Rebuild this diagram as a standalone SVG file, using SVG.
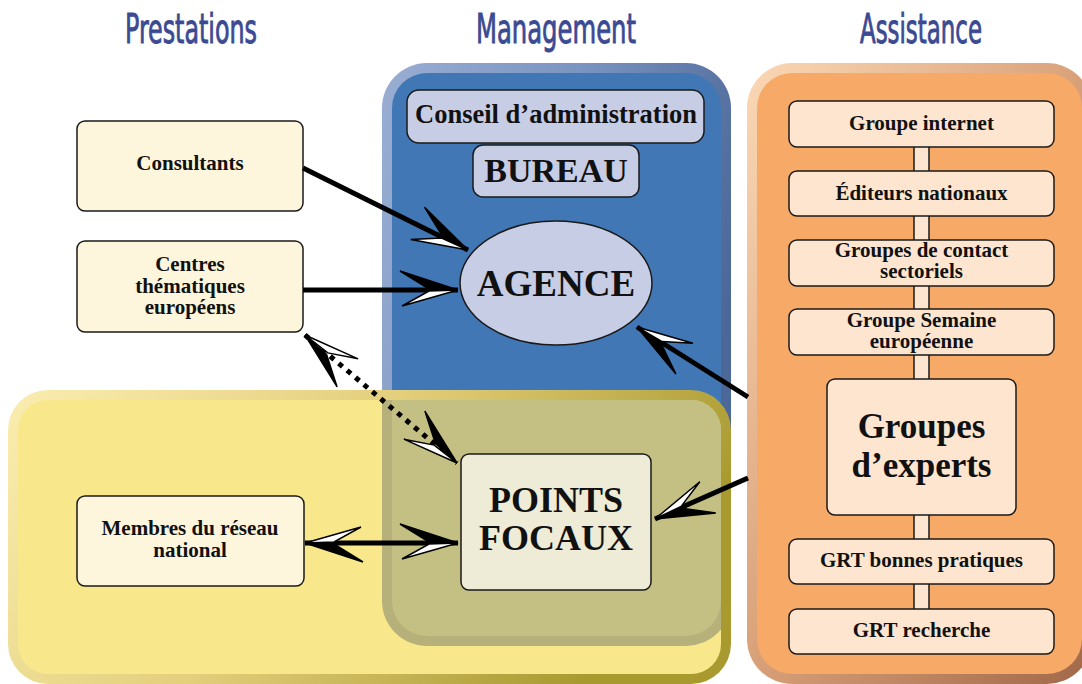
<svg xmlns="http://www.w3.org/2000/svg" width="1082" height="684" viewBox="0 0 1082 684">
<style>
.head{font-family:"Liberation Sans Narrow","DejaVu Sans Condensed","Liberation Sans",sans-serif;font-size:41px;fill:#3b4a93;stroke:#3b4a93;stroke-width:0.9;text-anchor:middle}
.t{font-family:"Liberation Serif","Times New Roman",serif;font-weight:bold;fill:#111;text-anchor:middle}
.s{font-size:21px}
.box{stroke:#1a1a1a;stroke-width:1.5}
.lbox{fill:#fdf6dd}
.obox{fill:#fde5cf}
.bbox{fill:#c6cde4}
.conn{fill:none;stroke:#000;stroke-width:5}
</style>
<defs>
<linearGradient id="gBlue" x1="0" y1="0" x2="1" y2="0.4">
<stop offset="0" stop-color="#9aaed2"/><stop offset="0.5" stop-color="#7a93c0"/><stop offset="1" stop-color="#4c6898"/>
</linearGradient>
<linearGradient id="gYel" x1="0" y1="0" x2="1" y2="0.3">
<stop offset="0" stop-color="#faedb0"/><stop offset="0.5" stop-color="#e3cf7c"/><stop offset="1" stop-color="#a99a30"/>
</linearGradient>
<linearGradient id="gOr" x1="0" y1="0" x2="1" y2="1">
<stop offset="0" stop-color="#fbd8b6"/><stop offset="0.5" stop-color="#d8a078"/><stop offset="1" stop-color="#a06848"/>
</linearGradient>
<clipPath id="yelInner"><rect x="18" y="400" width="703" height="274" rx="30"/></clipPath>
<marker id="ah" markerUnits="userSpaceOnUse" orient="auto-start-reverse" refX="0" refY="0" markerWidth="70" markerHeight="50" viewBox="-64 -25 70 50" overflow="visible">
<path d="M0,0 L-58,-19 L-29,-1 Z" fill="#000" stroke="#000" stroke-width="1.5" stroke-dasharray="none" stroke-linejoin="miter"/>
<path d="M0,0 L-29,1 L-56,16 Z" fill="#fff" stroke="#000" stroke-width="1.5" stroke-dasharray="none" stroke-linejoin="miter"/>
</marker>
</defs>
<rect width="1082" height="684" fill="#fff"/>

<g id="headings">
<text class="head" x="191" y="43" textLength="132" lengthAdjust="spacingAndGlyphs">Prestations</text>
<text class="head" x="556" y="43" textLength="160" lengthAdjust="spacingAndGlyphs">Management</text>
<text class="head" x="921" y="43" textLength="122" lengthAdjust="spacingAndGlyphs">Assistance</text>
</g>

<g id="panel-management">
<rect x="382" y="63" width="349" height="583" rx="45" fill="url(#gBlue)"/>
<rect x="392" y="73" width="329" height="563" rx="35" fill="#4277b5"/>
</g>

<g id="panel-prestations">
<rect x="8" y="390" width="723" height="294" rx="40" fill="url(#gYel)"/>
<rect x="18" y="400" width="703" height="274" rx="30" fill="#f9e88b"/>
<g clip-path="url(#yelInner)">
<rect x="382" y="63" width="349" height="583" rx="45" fill="#b6b17b"/>
<rect x="392" y="73" width="329" height="563" rx="35" fill="#c4bf82"/>
</g>
</g>

<g id="panel-assistance">
<rect x="747" y="63" width="345" height="621" rx="45" fill="url(#gOr)"/>
<rect x="757" y="73" width="325" height="601" rx="35" fill="#f7a967"/>
<rect x="914" y="140" width="15" height="475" class="box obox"/>
</g>

<g id="consultants"><rect x="77" y="121" width="226" height="90" rx="8" class="box lbox"/><text class="t s" x="190" y="170">Consultants</text></g>
<g id="centres"><rect x="77" y="241" width="226" height="91" rx="8" class="box lbox"/><text class="t s" x="190" y="271">Centres</text><text class="t s" x="190" y="293">thématiques</text><text class="t s" x="190" y="314">européens</text></g>
<g id="membres"><rect x="77" y="496" width="227" height="90" rx="8" class="box lbox"/><text class="t s" x="190" y="535">Membres du réseau</text><text class="t s" x="190" y="557">national</text></g>

<g id="conseil"><rect x="407" y="90" width="297" height="53" rx="12" class="box bbox"/><text class="t" font-size="26.5" x="556" y="123">Conseil d’administration</text></g>
<g id="bureau"><rect x="473" y="145" width="166" height="52" rx="10" class="box bbox"/><text class="t" font-size="34" x="556" y="182">BUREAU</text></g>
<g id="agence"><ellipse cx="556" cy="283" rx="96" ry="62" class="box bbox"/><text class="t" font-size="37" x="556" y="296">AGENCE</text></g>
<g id="points-focaux"><rect x="461" y="454" width="190" height="136" rx="8" class="box" fill="#eeebd6"/><text class="t" font-size="36" x="556" y="512">POINTS</text><text class="t" font-size="36" x="556" y="550">FOCAUX</text></g>

<g id="groupe-internet"><rect x="789" y="101" width="265" height="46" rx="8" class="box obox"/><text class="t s" x="921.5" y="130">Groupe internet</text></g>
<g id="editeurs"><rect x="789" y="171" width="265" height="45" rx="8" class="box obox"/><text class="t s" x="921.5" y="200">Éditeurs nationaux</text></g>
<g id="contact"><rect x="789" y="240" width="265" height="46" rx="8" class="box obox"/><text class="t s" x="921.5" y="257">Groupes de contact</text><text class="t s" x="921.5" y="278">sectoriels</text></g>
<g id="semaine"><rect x="789" y="309" width="265" height="46" rx="8" class="box obox"/><text class="t s" x="921.5" y="327">Groupe Semaine</text><text class="t s" x="921.5" y="348">européenne</text></g>
<g id="experts"><rect x="827" y="379" width="189" height="136" rx="8" class="box obox"/><text class="t" font-size="35" x="921.5" y="438">Groupes</text><text class="t" font-size="35" x="921.5" y="477">d’experts</text></g>
<g id="grt-bonnes"><rect x="789" y="539" width="265" height="45" rx="8" class="box obox"/><text class="t s" x="921.5" y="567">GRT bonnes pratiques</text></g>
<g id="grt-recherche"><rect x="789" y="609" width="265" height="45" rx="8" class="box obox"/><text class="t s" x="921.5" y="637">GRT recherche</text></g>

<g id="connectors">
<path class="conn" d="M303,168 L468,250" marker-end="url(#ah)"/>
<path class="conn" d="M303,290 L458,290" marker-end="url(#ah)"/>
<path class="conn" d="M305,335 L457,463" stroke-dasharray="5 6" marker-start="url(#ah)" marker-end="url(#ah)"/>
<path class="conn" d="M305,543 L458,543" stroke-width="4" marker-start="url(#ah)" marker-end="url(#ah)"/>
<path class="conn" d="M748,397 L637,327" marker-end="url(#ah)"/>
<path class="conn" d="M748,478 L655,519" marker-end="url(#ah)"/>
</g>
</svg>
